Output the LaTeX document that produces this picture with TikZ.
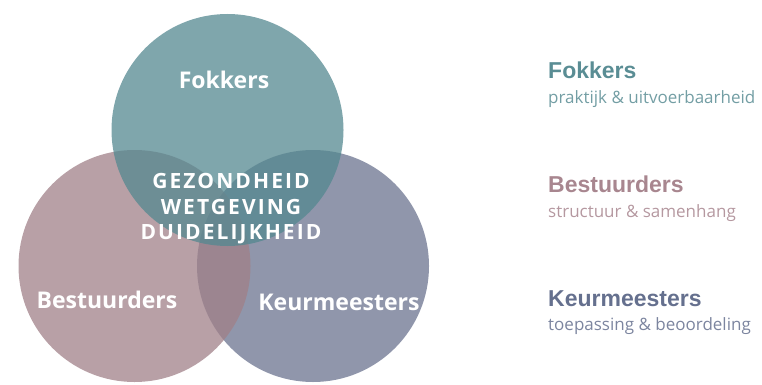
\documentclass[tikz,border=0pt]{standalone}
\usepackage{fontspec}
\setmainfont{Open Sans}
\newfontfamily\capsfont[LetterSpace=10]{Open Sans}
\newfontfamily\headfont{Liberation Sans}
\definecolor{fokteal}{RGB}{84,136,144}
\definecolor{bestmauve}{RGB}{160,128,136}
\definecolor{keurslate}{RGB}{107,115,143}
\definecolor{fokhead}{RGB}{90,141,148}
\definecolor{besthead}{RGB}{168,134,143}
\definecolor{keurhead}{RGB}{101,112,142}
\begin{document}
\begin{tikzpicture}[x=1pt,y=-1pt]
\useasboundingbox (0,0) rectangle (762,385);
% the three circles, top one last
\node[circle,inner sep=0,minimum size=232pt,fill=keurslate,fill opacity=.75] (keur) at (313,266) {};
\node[circle,inner sep=0,minimum size=232pt,fill=bestmauve,fill opacity=.75] (best) at (134.5,266) {};
\node[circle,inner sep=0,minimum size=232pt,fill=fokteal,fill opacity=.75] (fok) at (227.5,130) {};
\node[white,font=\bfseries\fontsize{23}{27}\selectfont] (foklabel) at (224,80) {Fokkers};
\node[white,font=\bfseries\fontsize{23}{27}\selectfont] (bestlabel) at (107,300) {Bestuurders};
\node[white,font=\bfseries\fontsize{23}{27}\selectfont] (keurlabel) at (339,302) {Keurmeesters};
\node[white,font=\capsfont\bfseries\fontsize{21}{25.5}\selectfont,align=center] (kern) at (231,209) {GEZONDHEID\\WETGEVING\\DUIDELIJKHEID};
% legend on the right
\node[anchor=base west,inner sep=0,text=fokhead,font=\headfont\bfseries\fontsize{23}{26}\selectfont] (fokhead) at (548,79) {Fokkers};
\node[anchor=base west,inner sep=0,text=fokhead!85,font=\fontsize{17}{20}\selectfont] (foksub) at (548,103) {praktijk \& uitvoerbaarheid};
\node[anchor=base west,inner sep=0,text=besthead,font=\headfont\bfseries\fontsize{23}{26}\selectfont] (besthead) at (548,192) {Bestuurders};
\node[anchor=base west,inner sep=0,text=besthead!85,font=\fontsize{17}{20}\selectfont] (bestsub) at (548,217) {structuur \& samenhang};
\node[anchor=base west,inner sep=0,text=keurhead,font=\headfont\bfseries\fontsize{23}{26}\selectfont] (keurhead) at (548,306) {Keurmeesters};
\node[anchor=base west,inner sep=0,text=keurhead!85,font=\fontsize{17}{20}\selectfont] (keursub) at (548,330) {toepassing \& beoordeling};
\end{tikzpicture}
\end{document}
